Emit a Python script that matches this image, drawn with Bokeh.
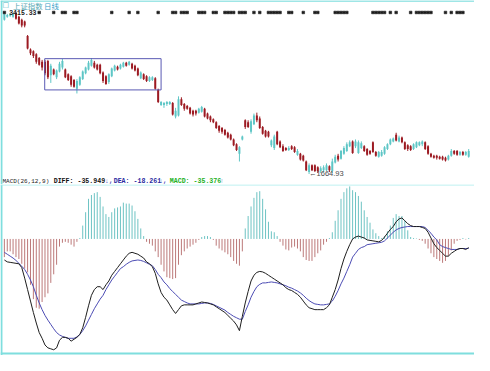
from bokeh.plotting import figure
from bokeh.models import Range1d, Span, Label, ColumnDataSource
from bokeh.layouts import column
from bokeh.embed import file_html
from bokeh.resources import INLINE

# ---------------- data (daily bars) ----------------
open_ = [3275,3305,3315,3305,3345,3305,3275,3255,3105,2965,
         2945,2915,2875,2835,2835,2845,2695,2755,2675,2735,
         2775,2755,2705,2685,2645,2555,2595,2655,2715,2755,
         2795,2825,2805,2805,2725,2685,2625,2685,2745,2785,
         2765,2785,2825,2805,2815,2795,2765,2665,2705,2685,
         2635,2645,2665,2545,2385,2385,2395,2395,2405,2265,
         2275,2445,2395,2375,2355,2325,2325,2305,2315,2345,
         2295,2265,2235,2205,2165,2145,2125,2095,2075,2025,
         1975,1875,2025,2225,2205,2105,2185,2275,2245,2155,
         2115,2105,1965,1935,2105,2005,1955,1935,1915,1955,
         1945,1865,1875,1855,1795,1685,1755,1755,1735,1695,
         1705,1705,1745,1695,1785,1855,1825,1875,1905,1955,
         2005,1955,1885,1935,1955,1925,1905,1995,1895,1845,
         1855,1875,1925,1975,2005,2075,2005,2045,1995,1965,
         1955,1925,1945,1965,1975,1995,1955,1875,1855,1855,
         1845,1845,1835,1815,1855,1905,1905,1865,1895,1865,
         1845]
close = [3335,3325,3335,3335,3285,3235,3215,3215,2975,2925,
         2895,2835,2805,2775,2715,2675,2795,2705,2745,2815,
         2845,2675,2645,2595,2575,2635,2675,2735,2775,2825,
         2855,2775,2755,2715,2635,2605,2705,2765,2795,2755,
         2805,2825,2795,2835,2765,2745,2695,2725,2655,2635,
         2675,2675,2555,2415,2415,2405,2415,2415,2285,2325,
         2445,2385,2345,2345,2295,2285,2295,2345,2365,2265,
         2245,2225,2205,2145,2115,2105,2075,2045,2025,1965,
         1915,1945,2055,2155,2155,2215,2275,2225,2145,2085,
         2055,2055,2015,2055,1975,1945,1905,1915,1935,1925,
         1895,1905,1815,1805,1705,1755,1705,1695,1695,1725,
         1735,1755,1705,1795,1845,1815,1905,1935,1975,1995,
         1885,2005,1995,1985,1905,1865,1875,1895,1855,1895,
         1895,1945,1975,2025,2035,2015,2045,1995,1925,1925,
         1915,1975,1995,1995,2005,1925,1875,1845,1835,1835,
         1825,1815,1805,1855,1905,1875,1865,1895,1865,1895,
         1905]
high = [3355,3335,3345,3345,3355,3315,3285,3265,3115,2975,
        2955,2925,2885,2855,2855,2855,2815,2765,2755,2835,
        2865,2765,2715,2695,2655,2655,2685,2745,2785,2845,
        2875,2845,2815,2815,2735,2695,2715,2775,2805,2795,
        2815,2835,2835,2845,2825,2805,2775,2735,2715,2695,
        2685,2685,2675,2555,2425,2415,2425,2425,2415,2355,
        2475,2465,2405,2385,2365,2335,2335,2355,2375,2355,
        2305,2275,2245,2215,2175,2155,2135,2105,2085,2035,
        1985,1955,2065,2235,2225,2235,2295,2305,2265,2165,
        2125,2115,2025,2075,2115,2015,1975,1945,1955,1965,
        1955,1925,1885,1865,1805,1775,1765,1765,1745,1745,
        1755,1775,1755,1825,1865,1875,1915,1955,1995,2015,
        2015,2025,2015,2005,1965,1935,1915,2005,1905,1905,
        1915,1955,1985,2035,2045,2095,2065,2055,2005,1975,
        1965,1985,2005,2005,2015,2005,1965,1885,1865,1865,
        1855,1855,1845,1865,1925,1915,1915,1905,1905,1905,
        1925]
low = [3265,3295,3305,3295,3275,3225,3195,3195,2965,2905,
       2875,2815,2795,2745,2695,2655,2615,2695,2655,2725,
       2755,2665,2635,2575,2565,2505,2585,2645,2705,2745,
       2785,2765,2745,2705,2615,2595,2605,2675,2735,2745,
       2755,2775,2785,2795,2755,2735,2685,2655,2645,2625,
       2625,2635,2545,2405,2375,2355,2375,2385,2275,2245,
       2265,2375,2325,2335,2285,2265,2275,2295,2305,2255,
       2235,2205,2195,2135,2095,2085,2065,2035,2015,1955,
       1905,1795,2015,2135,2145,2085,2175,2205,2135,2075,
       2045,2045,1945,1915,1965,1935,1895,1905,1905,1915,
       1885,1855,1805,1795,1695,1664.93,1695,1685,1675,1675,
       1685,1695,1685,1675,1775,1795,1815,1865,1895,1945,
       1875,1935,1875,1925,1895,1855,1865,1885,1845,1835,
       1845,1865,1915,1965,1995,2005,1995,1985,1915,1905,
       1905,1915,1935,1955,1955,1915,1865,1835,1825,1815,
       1815,1805,1795,1805,1845,1865,1855,1855,1855,1855,
       1835]

diff = [-44,-48,-49,-50,-51,-52,-60,-82,-106,-130,
        -154,-176,-196,-208,-222,-228,-230,-232,-228,-212,
        -206,-206,-208,-214,-210,-206,-200,-186,-164,-140,
        -118,-106,-100,-100,-106,-96,-88,-76,-68,-60,
        -52,-44,-36,-30,-28,-30,-32,-36,-40,-48,
        -52,-58,-72,-94,-112,-122,-128,-138,-148,-156,
        -148,-140,-138,-138,-138,-138,-136,-134,-132,-133,
        -134,-136,-138,-142,-146,-150,-154,-160,-166,-172,
        -180,-192,-162,-134,-110,-88,-76,-70,-68,-69,
        -72,-76,-80,-84,-88,-92,-96,-102,-106,-108,
        -112,-116,-122,-130,-138,-144,-146,-148,-148,-148,
        -148,-144,-138,-122,-106,-86,-62,-42,-26,-12,
        0,4,6,4,2,-2,-3,-4,-5,-6,
        -3,4,12,20,26,36,42,44,38,32,
        28,26,26,26,24,22,14,2,-10,-18,
        -24,-30,-36,-36,-30,-26,-22,-20,-20,-22,
        -18]
dea = [-28,-32,-36,-40,-45,-51,-57,-64,-74,-86,
       -100,-118,-134,-148,-160,-170,-179,-188,-196,-201,
       -204,-206,-208,-208,-208,-205,-200,-192,-182,-170,
       -158,-146,-136,-126,-118,-106,-96,-86,-78,-70,
       -62,-58,-53,-49,-46,-45,-44,-45,-47,-50,
       -53,-56,-64,-74,-81,-90,-96,-104,-110,-116,
       -122,-128,-131,-134,-136,-136,-136,-136,-135,-134,
       -134,-135,-137,-140,-143,-146,-149,-154,-158,-162,
       -165,-168,-168,-152,-138,-122,-110,-100,-95,-92,
       -92,-91,-90,-91,-92,-94,-96,-98,-101,-103,
       -106,-109,-113,-118,-124,-129,-133,-136,-137,-138,
       -138,-137,-136,-130,-120,-108,-94,-82,-68,-54,
       -38,-30,-22,-18,-16,-12,-11,-10,-9,-8,
       -7,-4,2,8,14,19,22,24,25,26,
       26,26,26,26,26,24,18,12,4,-2,
       -12,-16,-18,-20,-22,-22,-22,-20,-20,-20,
       -20]
macd = [-38,-26,-26,-32,-38,-42,-52,-62,-70,-96,
        -126,-144,-146,-132,-122,-114,-92,-74,-54,-16,
        -8,-6,-8,-12,-16,-6,2,28,56,84,
        92,96,98,88,68,52,46,56,64,66,
        68,76,74,74,70,58,42,22,6,-6,
        -10,-14,-26,-38,-54,-68,-80,-82,-84,-82,
        -54,-34,-26,-20,-16,-12,-8,-2,4,6,
        6,4,-2,-14,-20,-24,-28,-32,-38,-46,
        -52,-56,-26,22,48,68,86,98,100,84,
        62,36,16,14,6,-6,-14,-22,-24,-18,
        -16,-20,-26,-38,-44,-46,-46,-38,-30,-24,
        -12,-6,2,14,38,60,84,98,106,110,
        102,98,90,78,60,46,34,20,12,6,
        2,6,16,28,44,52,48,48,38,18,
        4,2,1,-2,-4,-10,-20,-30,-38,-42,
        -46,-50,-46,-36,-24,-10,-4,-2,2,-1,
        2]

info_days = [0,12,17,20,21,24,25,37,43,46,53,58,59,61,62,63,67,68,69,72,73,
             76,77,78,79,81,82,83,86,88,91,92,93,94,95,98,99,103,107,108,
             114,115,116,117,118,127,128,129,130,131,133,135,140,142,143,144,
             145,146,147,152,154,156,157,158]
info_level = 3350
low_day = 105
low_price = 1664.93
high_text = "3415.33"
box_x = (13.9, 54.0)
box_y = (2542, 2868)

title_name = "上证指数"
title_period = "日线"
macd_name = "MACD(26,12,9)"
diff_text = "DIFF: -35.949"
dea_text = "DEA: -18.261"
macd_text = "MACD: -35.376"

# ---------------- styling ----------------
W = 474
H_TOP = 184
H_BOT = 171
SX = W / 490.0
SY = H_TOP / 192.0
RED = "#9c1a22"
CYAN = "#5ec6c6"
HRED = "#b46a6a"
HCYAN = "#5cbcbc"
BORDER = "#7fdede"

days = list(range(len(close)))
xr = Range1d(-1.333, 162)

colors = [RED if c < o else CYAN for o, c in zip(open_, close)]
src = ColumnDataSource(dict(
    x=days, h=high, l=low,
    top=[max(o, c) for o, c in zip(open_, close)],
    bottom=[min(o, c) for o, c in zip(open_, close)],
    color=colors))


def base_fig(h, yr):
    f = figure(width=W, height=h, x_range=xr, y_range=yr,
               output_backend="svg", toolbar_location=None,
               x_axis_location=None, y_axis_location=None,
               min_border=0, outline_line_color=None,
               background_fill_color="white", border_fill_color="white")
    f.grid.visible = False
    return f


p1 = base_fig(H_TOP, Range1d(1555, 3475))
p1.segment(x0="x", y0="h", x1="x", y1="l", source=src, line_color="color", line_width=1)
p1.vbar(x="x", top="top", bottom="bottom", width=0.68, source=src,
        fill_color="color", line_color=None)

p1.quad(left=[box_x[0]], right=[box_x[1]], bottom=[box_y[0]], top=[box_y[1]],
        fill_color=None, line_color="#5a5ab4", line_width=1)

p1.scatter(x=info_days, y=[info_level] * len(info_days), marker="square",
           size=2.6, fill_color="#1c1c1c", line_color="#1c1c1c", line_width=0.6)

p1.add_layout(Label(x=low_day, y=low_price, text="\u2190" + f"{low_price:.2f}",
                    text_align="left", text_baseline="middle",
                    text_font="Liberation Sans", text_font_size="7.5px",
                    text_color="#4a4a4a"))
p1.add_layout(Label(x=9 * SX, y=(192 - 12.5) * SY, x_units="screen", y_units="screen",
                    text=high_text, text_align="left", text_baseline="middle",
                    text_font="Liberation Mono", text_font_size="6.5px",
                    text_font_style="bold", text_color="#222222"))
# title
p1.add_layout(Label(x=2 * SX, y=(192 - 5) * SY, x_units="screen", y_units="screen",
                    text="\u25a1", text_baseline="middle",
                    text_font="DejaVu Sans", text_font_size="7px", text_color="#46b4c0"))
p1.add_layout(Label(x=13 * SX, y=(192 - 5) * SY, x_units="screen", y_units="screen",
                    text=title_name, text_baseline="middle",
                    text_font="Noto Sans CJK SC", text_font_size="7.4px", text_color="#55a8b2"))
p1.add_layout(Label(x=45 * SX, y=(192 - 5) * SY, x_units="screen", y_units="screen",
                    text=title_period, text_baseline="middle",
                    text_font="Noto Sans CJK SC", text_font_size="7.4px", text_color="#3aa0c8"))

# MACD caption line
cap_y = (192 - 189) * SY
for xpos, txt, col, style, fs in [
        (2, macd_name, "#222222", "normal", "6px"),
        (55, diff_text, "#111111", "bold", "6.6px"),
        (108, "\u2193,", "#4a4ab8", "bold", "6.6px"),
        (117, dea_text, "#2a2aa0", "bold", "6.6px"),
        (164, "\u2193,", "#4a4ab8", "bold", "6.6px"),
        (175, macd_text, "#22b022", "bold", "6.6px"),
        (227, "\u2191", "#4a8ad0", "bold", "6.6px")]:
    p1.add_layout(Label(x=xpos * SX, y=cap_y, x_units="screen", y_units="screen",
                        text=txt, text_baseline="middle", text_align="left",
                        text_font="Liberation Mono", text_font_size=fs,
                        text_font_style=style, text_color=col))

p1.add_layout(Span(location=-1.0, dimension="height", line_color=BORDER, line_width=2))
p1.add_layout(Span(location=3471, dimension="width", line_color=BORDER, line_width=1.5))

# ---------------- MACD panel ----------------
p2 = base_fig(H_BOT, Range1d(-244, 114))
hsrc = ColumnDataSource(dict(x=days, zero=[0] * len(macd), v=macd,
                             color=[HCYAN if v > 0 else HRED for v in macd]))
p2.segment(x0="x", y0="zero", x1="x", y1="v", source=hsrc, line_color="color", line_width=0.9)
p2.line(days, dea, line_color="#4c4cb4", line_width=1)
p2.line(days, diff, line_color="#1e1e1e", line_width=1)

p2.add_layout(Span(location=-1.0, dimension="height", line_color=BORDER, line_width=2))
p2.add_layout(Span(location=113, dimension="width", line_color="#a8ecec", line_width=1))
p2.add_layout(Span(location=-240, dimension="width", line_color=BORDER, line_width=2))

layout = column(p1, p2, spacing=0)
open("out.html", "w").write(file_html(layout, INLINE))
